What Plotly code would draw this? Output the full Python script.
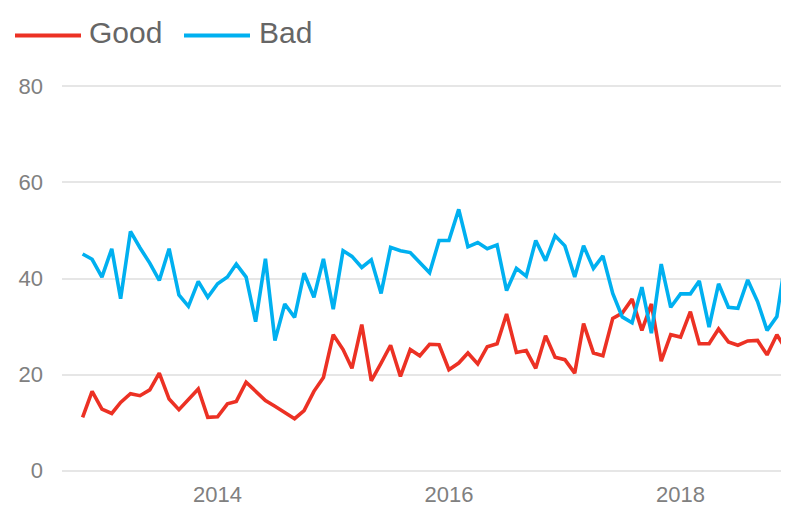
import pandas as pd
import plotly.graph_objects as go

# Monthly series, Nov 2012 - Dec 2018
months = pd.date_range("2012-11-01", periods=74, freq="MS")

good = [
    11.1, 16.5, 12.8, 11.9, 14.2, 16.0, 15.6, 16.8, 20.3, 14.9, 12.7, 14.8,
    17.0, 11.1, 11.2, 13.9, 14.4, 18.4, 16.5, 14.6, 13.4, 12.0, 10.8, 12.5,
    16.5, 19.4, 28.3, 25.2, 21.3, 30.4, 18.7, 22.4, 26.1, 19.6, 25.2, 23.9,
    26.3, 26.2, 21.0, 22.4, 24.5, 22.2, 25.8, 26.4, 32.6, 24.6, 25.0, 21.3,
    28.1, 23.6, 23.1, 20.3, 30.6, 24.5, 23.9, 31.7, 32.8, 35.7, 29.2, 34.7,
    22.8, 28.3, 27.8, 33.1, 26.4, 26.4, 29.5, 26.8, 26.1, 27.0, 27.1, 24.1,
    28.3, 25.1,
]

bad = [
    45.1, 44.0, 40.3, 46.2, 35.8, 49.8, 46.4, 43.2, 39.6, 46.2, 36.6, 34.2,
    39.4, 36.1, 38.9, 40.3, 43.0, 40.3, 31.0, 44.1, 27.1, 34.7, 31.9, 41.1,
    36.1, 44.1, 33.6, 45.8, 44.6, 42.3, 43.9, 36.9, 46.5, 45.8, 45.4, 43.2,
    41.2, 47.9, 47.9, 54.4, 46.6, 47.5, 46.2, 47.0, 37.5, 42.1, 40.5, 47.9,
    43.7, 48.9, 46.8, 40.3, 46.8, 42.1, 44.7, 36.9, 32.0, 30.8, 38.2, 28.6,
    43.0, 34.0, 36.8, 36.8, 39.5, 29.9, 38.9, 34.0, 33.8, 39.7, 35.2, 29.2,
    32.1, 45.0,
]

series_names = ["Good", "Bad"]
series_colors = ["#EC3124", "#00B0F0"]

W, H = 790, 506
L, R, T, B = 62, 9, 83.6, 32.6
pw, ph = W - L - R, H - T - B


def px_x(x):
    return (x - L) / pw


def px_y(y):
    return (H - B - y) / ph


fig = go.Figure()
for name, vals, col in zip(series_names, [good, bad], series_colors):
    fig.add_trace(go.Scatter(
        x=months, y=vals, name=name, mode="lines",
        line=dict(color=col, width=3.6),
        showlegend=False, hoverinfo="skip",
    ))

# Legend drawn as line samples with labels at the top left
legend_items = [(15, 81, 87), (184, 250, 257)]
for (x0, x1, tx), name, col in zip(legend_items, series_names, series_colors):
    fig.add_shape(type="line", xref="paper", yref="paper",
                  x0=px_x(x0), x1=px_x(x1), y0=px_y(35), y1=px_y(35),
                  line=dict(color=col, width=4))
    fig.add_annotation(text=name, xref="paper", yref="paper",
                       x=px_x(tx), y=px_y(31.5), xanchor="left", yanchor="middle",
                       showarrow=False,
                       font=dict(family="Liberation Sans, Arial, sans-serif",
                                 size=30, color="#666666"))

fig.update_layout(
    width=W, height=H,
    margin=dict(l=L, r=R, t=T, b=B, pad=0),
    paper_bgcolor="white", plot_bgcolor="white",
    font=dict(family="Liberation Sans, Arial, sans-serif", size=22, color="#808080"),
)
fig.update_xaxes(
    range=["2012-08-28", "2018-11-14"],
    tickvals=["2014-01-01", "2016-01-01", "2018-01-01"],
    ticktext=["2014", "2016", "2018"],
    showgrid=False, zeroline=False, showline=False, ticks="",
    ticklabelstandoff=6, automargin=False,
)
fig.update_yaxes(
    range=[-0.5, 80.5],
    tickvals=[0, 20, 40, 60, 80],
    showgrid=True, gridcolor="#E6E6E6", gridwidth=2,
    zeroline=False, showline=False, ticks="",
    ticklabelstandoff=18, automargin=False,
)

fig.write_html("out.html")
